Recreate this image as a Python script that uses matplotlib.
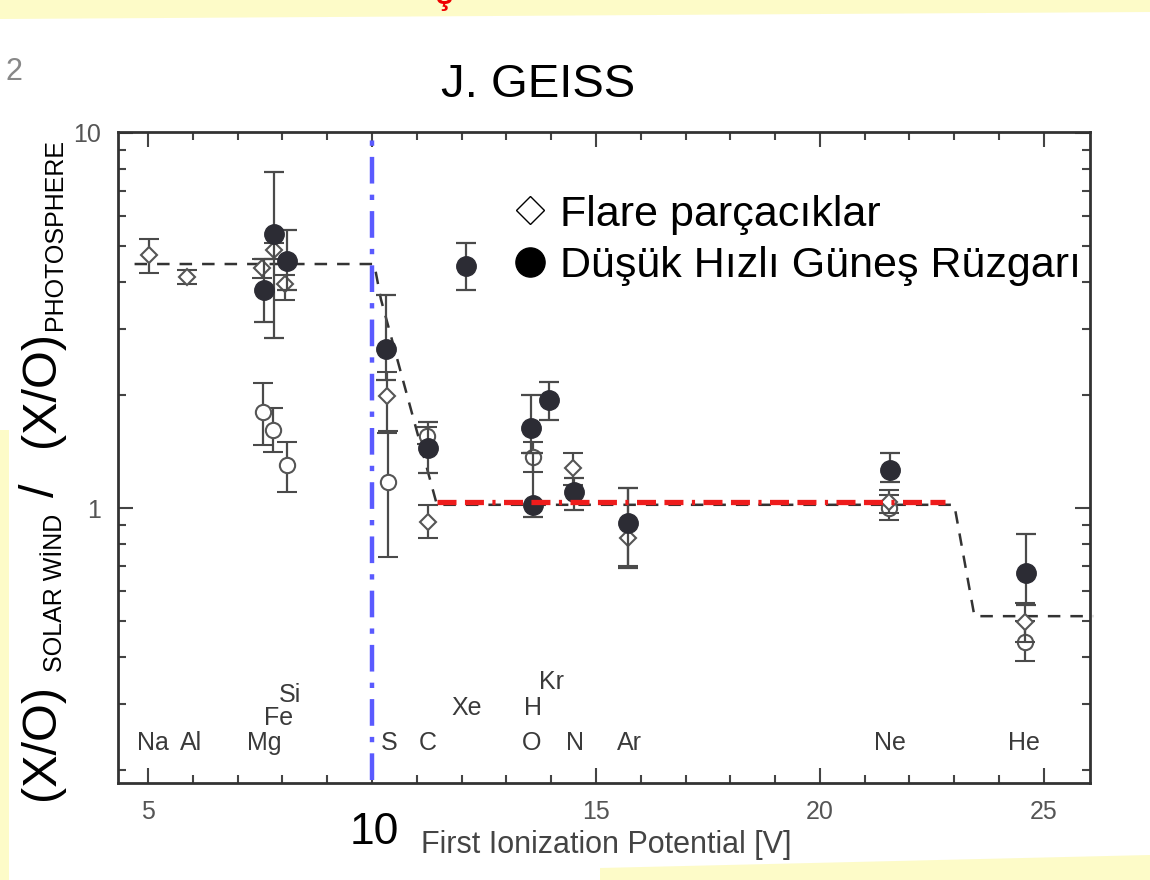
import numpy as np
import matplotlib.pyplot as plt
from matplotlib.patches import Polygon
from matplotlib.ticker import FixedLocator, NullFormatter, LogLocator

plt.rcParams['font.family'] = ['Liberation Sans', 'DejaVu Sans']

# slow solar wind (filled circles)
sw_el = ['Mg', 'Fe', 'Si', 'S', 'C', 'Xe', 'H', 'Kr', 'O', 'N', 'Ar', 'Ne', 'He']
sw_fip = [7.6, 7.82, 8.1, 10.32, 11.24, 12.1, 13.55, 13.95, 13.6, 14.5, 15.72, 21.56, 24.6]
sw_val = [3.81, 5.38, 4.56, 2.66, 1.445, 4.42, 1.63, 1.94, 1.02, 1.10, 0.912, 1.26, 0.671]
sw_lo = [3.13, 2.84, 3.8, 2.2, 1.24, 3.81, 1.40, 1.72, 0.946, 0.99, 0.692, 1.17, 0.55]
sw_hi = [4.6, 7.87, 5.5, 3.7, 1.70, 5.09, 2.0, 2.17, 1.40, 1.20, 1.13, 1.40, 0.853]

# flare particles (open diamonds)
fl_el = ['Na', 'Al', 'Mg', 'Fe', 'Si', 'S', 'C', 'N', 'Ar', 'Ne', 'He']
fl_fip = [5.02, 5.88, 7.55, 7.82, 8.05, 10.33, 11.24, 14.48, 15.72, 21.54, 24.58]
fl_val = [4.73, 4.13, 4.37, 4.87, 3.96, 1.99, 0.918, 1.28, 0.83, 1.04, 0.497]
fl_lo = [4.23, 3.95, 4.1, 4.6, 3.59, 1.58, 0.832, 1.15, 0.70, 0.97, 0.44]
fl_hi = [5.21, 4.3, 4.6, 5.1, 4.18, 2.3, 1.02, 1.40, 1.13, 1.12, 0.56]

# third set (open circles)
oc_fip = [7.57, 7.8, 8.1, 10.35, 11.22, 13.6, 21.54, 24.58]
oc_val = [1.80, 1.61, 1.30, 1.17, 1.56, 1.37, 1.0, 0.44]
oc_lo = [1.47, 1.41, 1.10, 0.74, 1.48, 1.25, 0.93, 0.39]
oc_hi = [2.15, 1.85, 1.50, 1.6, 1.64, 1.50, 1.08, 0.50]

# FIP step
step_x = [4.7, 10.05, 10.2, 11.45, 23.0, 23.45, 26.1]
step_y = [4.47, 4.47, 3.6, 1.02, 1.02, 0.515, 0.515]

# element labels under the points
lab_txt = ['Na', 'Al', 'Mg', 'Fe', 'Si', 'S', 'C', 'Xe', 'H', 'Kr', 'O', 'N', 'Ar', 'Ne', 'He']
lab_x = [5.1, 5.95, 7.6, 7.92, 8.17, 10.38, 11.25, 12.12, 13.6, 14.0, 13.57, 14.53, 15.74, 21.56, 24.55]
lab_y = [0.237, 0.237, 0.237, 0.276, 0.317, 0.237, 0.237, 0.293, 0.294, 0.344, 0.237, 0.237, 0.237, 0.237, 0.237]

W, H = 1150, 880
fig = plt.figure(figsize=(11.5, 8.8), dpi=100)
fig.patch.set_facecolor('white')

def fx(px):
    return px / W

def fy(py):
    return 1 - py / H

# yellow page edges
yel = '#fdfbc8'
fig.patches.append(Polygon([[0, 1], [1, 1], [1, fy(12)], [0, fy(19)]], closed=True,
                           transform=fig.transFigure, facecolor=yel, edgecolor='none'))
fig.patches.append(Polygon([[fx(600), 0], [1, 0], [1, fy(855)], [fx(600), fy(868)]], closed=True,
                           transform=fig.transFigure, facecolor=yel, edgecolor='none'))
fig.patches.append(Polygon([[0, 0], [fx(9), 0], [fx(9), fy(430)], [0, fy(430)]], closed=True,
                           transform=fig.transFigure, facecolor=yel, edgecolor='none'))

ax = fig.add_axes([fx(118), fy(783), fx(1090) - fx(118), fy(132) - fy(783)])
ax.set_yscale('log')
ax.set_xlim(4.33, 26.03)
ax.set_ylim(0.185, 10.05)

grey = '#444444'
for s in ax.spines.values():
    s.set_color('#333333')
    s.set_linewidth(2)

ax.xaxis.set_major_locator(FixedLocator([5, 10, 15, 20, 25]))
ax.xaxis.set_minor_locator(FixedLocator(np.arange(5, 26, 1)))
ax.set_xticklabels(['5', '', '15', '20', '25'])
ax.yaxis.set_major_locator(FixedLocator([1, 10]))
ax.yaxis.set_minor_locator(LogLocator(base=10, subs=np.arange(2, 10)))
ax.yaxis.set_minor_formatter(NullFormatter())
ax.set_yticklabels(['1', '10'])
ax.tick_params(which='both', direction='in', top=True, right=True, color=grey, width=1.5,
               labelsize=18, labelcolor='#555555')
ax.tick_params(which='major', length=11, pad=12)
ax.tick_params(which='minor', length=6)

# step line
ax.plot(step_x, step_y, color='#333333', lw=1.8, ls=(0, (5, 4)), zorder=2, clip_on=False)

ekw = dict(ecolor='#4a4a4a', elinewidth=1.6, capsize=7, capthick=1.6, ls='none')

# open circles
ax.errorbar(oc_fip, oc_val,
            yerr=[np.subtract(oc_val, oc_lo), np.subtract(oc_hi, oc_val)],
            marker='o', ms=11, mfc='white', mec='#555555', mew=1.5, zorder=3, **ekw)
# flare particles
ax.errorbar(fl_fip, fl_val,
            yerr=[np.subtract(fl_val, fl_lo), np.subtract(fl_hi, fl_val)],
            marker='D', ms=8, mfc='white', mec='#555555', mew=1.5, zorder=4, **ekw)
# slow solar wind
ax.errorbar(sw_fip, sw_val,
            yerr=[np.subtract(sw_val, sw_lo), np.subtract(sw_hi, sw_val)],
            marker='o', ms=14, mfc='#2c2c34', mec='#2c2c34', zorder=5, **ekw)

for t, x, y in zip(lab_txt, lab_x, lab_y):
    ax.text(x, y, t, ha='center', va='center', fontsize=18, color='#3a3a3a')

# highlighted lines
ax.axvline(10.0, ymin=0.005, ymax=0.995, color='#5a5aff', lw=3.2,
           ls=(0, (6, 2.5, 1.2, 2.5)), zorder=6)
ax.plot([11.45, 22.8], [1.04, 1.04], color='#ee1c1c', lw=3.8,
        ls=(0, (3.6, 1.6, 3.6, 1.6, 0.6, 1.6)), zorder=6)

# big "10" under the axis
fig.text(fx(374), fy(844), '10', ha='center', va='baseline', fontsize=32, color='black')
fig.text(fx(606), fy(853), 'First Ionization Potential [V]', ha='center', va='baseline',
         fontsize=22, color=grey)

# title and page marks
fig.text(fx(538), fy(97), 'J. GEISS', ha='center', va='baseline', fontsize=34, color='black')
fig.text(fx(14), fy(72), '2', ha='center', va='center', fontsize=22, color='#888888')
fig.text(fx(444), fy(4), 'ş', ha='center', va='baseline', fontsize=22, color='#ee0000',
         fontweight='bold')

# legend
ax.plot([fx(530)], [fy(210)], marker='D', ms=14.5, mfc='white', mec='black', mew=1,
        transform=fig.transFigure, clip_on=False)
ax.plot([fx(530)], [fy(262)], marker='o', ms=21, mfc='black', mec='black',
        transform=fig.transFigure, clip_on=False)
fig.text(fx(560), fy(226), 'Flare parçacıklar', ha='left', va='baseline', fontsize=31)
fig.text(fx(560), fy(277), 'Düşük Hızlı Güneş Rüzgarı', ha='left', va='baseline', fontsize=31)

# y label built from pieces
ykw = dict(rotation=90, rotation_mode='anchor', ha='left', va='baseline', color='black')
fig.text(fx(54), fy(800), '(X/O)', fontsize=35, **ykw)
fig.text(fx(62), fy(672), 'SOLAR WİND', fontsize=18, **ykw)
fig.text(fx(54), fy(497), '/', fontsize=35, **ykw)
fig.text(fx(54), fy(447), '(X/O)', fontsize=35, **ykw)
fig.text(fx(62), fy(330), 'PHOTOSPHERE', fontsize=18, **ykw)

fig.savefig('out.png', dpi=100)
